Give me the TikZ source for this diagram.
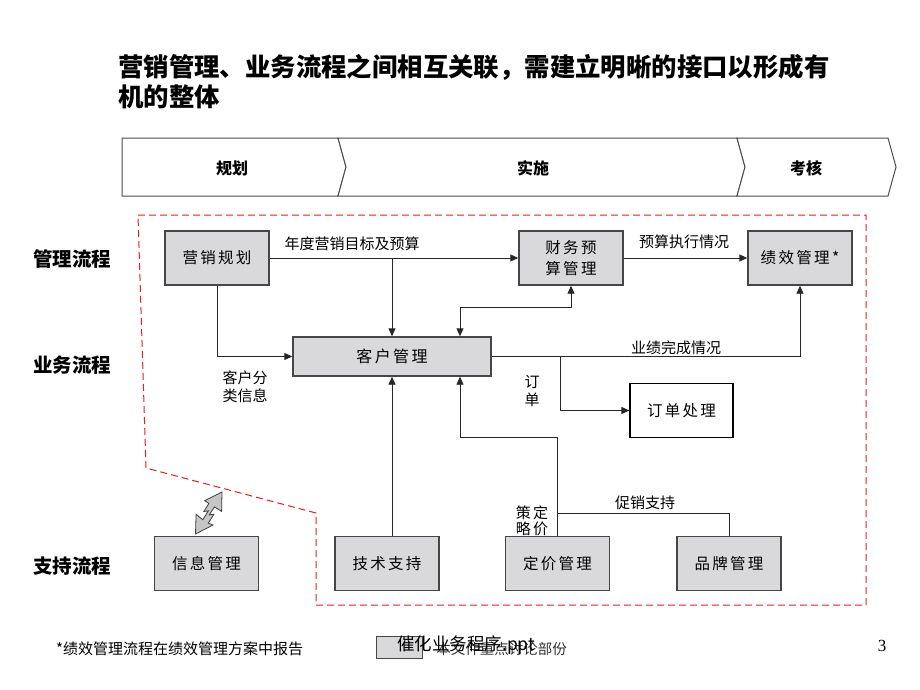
\documentclass[tikz,border=0pt]{standalone}
\usepackage{fontspec}
\setmainfont{Noto Sans CJK SC}
\newfontfamily\boxfont[LetterSpace=15]{Noto Sans CJK SC}
\newfontfamily\numfont{Liberation Serif}
\usetikzlibrary{arrows.meta}
\definecolor{boxfill}{RGB}{217,217,219}
\definecolor{boxline}{RGB}{70,70,70}
\definecolor{dashred}{RGB}{235,30,30}
\tikzset{
  procbox/.style={draw=boxline, line width=1.4pt, fill=boxfill, minimum width=104pt, minimum height=54pt, inner sep=0pt, font=\boxfont\fontsize{15.5}{21}\selectfont, align=center},
  conn/.style={draw=black!85, line width=0.9pt},
  arr/.style={conn, -{Triangle[length=8pt,width=7pt]}},
  darr/.style={conn, {Triangle[length=8pt,width=7pt]}-{Triangle[length=8pt,width=7pt]}},
  lbl/.style={font=\fontsize{15}{18}\selectfont, inner sep=0pt, align=center},
  rowlbl/.style={font=\bfseries\fontsize{19.5}{22}\selectfont, inner sep=0pt},
  phase/.style={draw=black!70, line width=1pt, fill=white},
  phaselbl/.style={font=\bfseries\fontsize{16}{18}\selectfont, inner sep=0pt},
  titlelbl/.style={anchor=west, font=\bfseries\fontsize{25.4}{30}\selectfont, inner sep=0pt},
  boundary/.style={draw=dashred, line width=1pt, dash pattern=on 7pt off 4pt},
  bolt/.style={fill=gray!45, draw=black!75, line width=0.8pt, line join=miter},
}
\begin{document}
\begin{tikzpicture}[x=1pt,y=-1pt]
\useasboundingbox[fill=white] (0,0) rectangle (920,690);
% title
\node[titlelbl] (title1) at (118,67) {营销管理、业务流程之间相互关联，需建立明晰的接口以形成有};
\node[titlelbl] (title2) at (118,97) {机的整体};
% phases
\draw[phase] (122,138) -- (338,138) -- (346,167) -- (338,196) -- (122,196) -- cycle;
\draw[phase] (338,138) -- (737,138) -- (745,167) -- (737,196) -- (338,196) -- (346,167) -- cycle;
\draw[phase] (737,138) -- (888,138) -- (896,167) -- (888,196) -- (737,196) -- (745,167) -- cycle;
\node[phaselbl] (ph1) at (232,168) {规划};
\node[phaselbl] (ph2) at (533,168) {实施};
\node[phaselbl] (ph3) at (806,168) {考核};
% boundary
\draw[boundary] (138,215) -- (866,215) -- (866,605) -- (316,605) -- (316,513) -- (146,468) -- cycle;
% row labels
\node[rowlbl] (r1) at (72,259) {管理流程};
\node[rowlbl] (r2) at (72,365) {业务流程};
\node[rowlbl] (r3) at (72,566) {支持流程};
% boxes
\node[procbox] (yxgh) at (217,258) {营销规划};
\node[procbox] (cwys) at (571,258) {财务预\\算管理};
\node[procbox] (jxgl) at (800,258) {绩效管理*};
\node[procbox, minimum width=198pt, minimum height=39pt, font=\boxfont\fontsize{16}{21}\selectfont] (khgl) at (392,356.5) {客户管理};
\node[procbox, fill=white, draw=black, line width=1.2pt, minimum width=103pt] (ddcl) at (681.5,410.5) {订单处理};
\node[procbox] (xxgl) at (206.5,563.5) {信息管理};
\node[procbox] (jszc) at (387,563.5) {技术支持};
\node[procbox] (djgl) at (557.5,563.5) {定价管理};
\node[procbox] (ppgl) at (729,563.5) {品牌管理};
% helper coordinates
\coordinate (bend1) at (460,307);
\coordinate (dd) at (560,356.5);
\coordinate (pj) at (0,437);
\coordinate (cx) at (0,513);
% connectors
\draw[arr] (yxgh.east) -- (cwys.west);
\draw[arr] (yxgh.east -| khgl.north) -- (khgl.north);
\draw[arr] (yxgh.south) |- (khgl.west);
\draw[darr] ([xshift=68pt]khgl.north) -- (bend1) -| (cwys.south);
\draw[arr] (cwys.east) -- (jxgl.west);
\draw[arr] (khgl.east) -| (jxgl.south);
\draw[arr] (dd) |- (ddcl.west);
\draw[arr] (jszc.north -| khgl.north) -- (khgl.south);
\draw[arr] (djgl.north) -- (djgl.north |- pj) -| ([xshift=68pt]khgl.south);
\draw[conn] (ppgl.north) -- (ppgl.north |- cx) -- (djgl.north |- cx);
% connector labels
\node[lbl] (l1) at (352,244) {年度营销目标及预算};
\node[lbl] (l2) at (684,242) {预算执行情况};
\node[lbl] (l3) at (676,348) {业绩完成情况};
\node[lbl] (l4) at (245,387) {客户分\\类信息};
\node[lbl] (l5) at (532,391) {订\\单};
\node[lbl] (l6) at (645,503) {促销支持};
\node[lbl, font=\fontsize{15}{16}\selectfont] (l7) at (532,521) {策\,定\\略\,价};
% lightning double arrow
\draw[bolt]
  (195.5,534) -- (213.0,525.0) -- (208.3,523.1) -- (213.9,514.3) -- (209.3,514.9)
  -- (214.4,506.9) -- (221.6,511.4) -- (222,492) -- (204.7,500.7) -- (208.9,503.4)
  -- (203.8,511.5) -- (208.4,510.8) -- (202.8,519.7) -- (196.1,514.3) -- cycle;
% footer
\node[anchor=west, font=\fontsize{15}{18}\selectfont, inner sep=0pt] (fn) at (56,649) {*绩效管理流程在绩效管理方案中报告};
\node[draw=boxline, line width=1pt, fill=boxfill, minimum width=46pt, minimum height=22pt, inner sep=0pt] (legbox) at (399,647) {};
\node[anchor=east, font=\fontsize{14.5}{16}\selectfont, inner sep=0pt, text=black!80] (legtxt) at (567,649) {本文件重点讨论部份};
\node[anchor=west, font=\fontsize{17.5}{20}\selectfont, inner sep=0pt] (fname) at (397,645) {催化业务程序.ppt};
\node[font=\numfont\fontsize{17}{20}\selectfont, inner sep=0pt] (pg) at (882,646) {3};
\end{tikzpicture}
\end{document}
